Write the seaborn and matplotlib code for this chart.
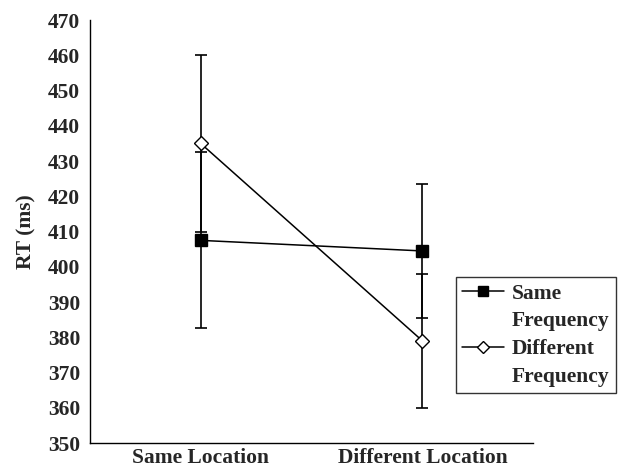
import numpy as np
import pandas as pd
import matplotlib
matplotlib.use('Agg')
import matplotlib.pyplot as plt
import seaborn as sns

# Values
locations = ['Same Location', 'Different Location']
same_freq = [407.5, 404.5]
same_freq_err = [25, 19]
diff_freq = [435, 379]
diff_freq_err = [25, 19]
y_ticks = list(range(350, 471, 10))

df = pd.DataFrame({
    'pos': [0, 1, 0, 1],
    'RT': same_freq + diff_freq,
    'err': same_freq_err + diff_freq_err,
    'cond': ['Same Frequency'] * 2 + ['Different Frequency'] * 2,
})

sns.set_style('white')
plt.rcParams['font.family'] = ['Liberation Serif', 'DejaVu Serif']
FS = 15.5

fig = plt.figure(figsize=(6.2, 4.68), dpi=100)
ax = fig.add_axes([0.145, 0.0534, 0.715, 0.9036])

# error bars first, markers drawn on top
for cond, sub in df.groupby('cond', sort=False):
    ax.errorbar(sub['pos'], sub['RT'], yerr=sub['err'], fmt='none',
                ecolor='black', elinewidth=1.2, capsize=4, capthick=1.2, zorder=2)

sns.lineplot(data=df, x='pos', y='RT', hue='cond', style='cond',
             markers={'Same Frequency': 's', 'Different Frequency': 'D'},
             dashes=False, palette=['black', 'black'], linewidth=1.1,
             ax=ax, zorder=3, legend=False)

# marker styling: filled square, hollow diamond
lines = ax.get_lines()
for ln, cond in zip(lines[-2:], ['Same Frequency', 'Different Frequency']):
    if cond.startswith('Same'):
        ln.set_marker('s'); ln.set_markersize(8.5)
        ln.set_markerfacecolor('black'); ln.set_markeredgecolor('black')
    else:
        ln.set_marker('D'); ln.set_markersize(7.5)
        ln.set_markerfacecolor('white'); ln.set_markeredgecolor('black')
    ln.set_markeredgewidth(1.0)

ax.set_xlim(-0.5, 1.5)
ax.set_ylim(350, 470)
ax.set_yticks(y_ticks)
ax.set_yticklabels([str(t) for t in y_ticks], fontsize=FS, fontweight='bold')
ax.set_xticks([-0.5, 0.5, 1.5])
ax.set_xticklabels([])
ax.set_xticks([0, 1], minor=True)
ax.set_xticklabels(locations, minor=True, fontsize=FS, fontweight='bold')
ax.tick_params(axis='x', which='major', direction='in', length=5, width=1, color='black')
ax.tick_params(axis='x', which='minor', length=0, pad=3.5)
ax.tick_params(axis='y', direction='out', length=4, width=1, color='black', pad=3)
ax.set_xlabel('')
ax.set_ylabel('RT (ms)', fontsize=FS, fontweight='bold', labelpad=8)

for side in ['top', 'right']:
    ax.spines[side].set_visible(False)
for side in ['left', 'bottom']:
    ax.spines[side].set_color('black')
    ax.spines[side].set_linewidth(1.0)

# legend sits partly outside the axes; each label wraps over two rows
# with the handle on the first row, so use blank handles for the second rows
blank = plt.Line2D([], [], linestyle='none')
handles = [plt.Line2D([], [], color='black', marker='s', markersize=7.5,
                      markerfacecolor='black', linewidth=1.1),
           blank,
           plt.Line2D([], [], color='black', marker='D', markersize=6.5,
                      markerfacecolor='white', linewidth=1.1),
           blank]
labels = ['Same', 'Frequency', 'Different', 'Frequency']
leg = fig.legend(handles, labels,
                 loc='upper left', bbox_to_anchor=(456 / 620, 1 - 277 / 468),
                 prop={'size': 15.5, 'weight': 'bold'}, frameon=True,
                 fancybox=False, handlelength=1.95, handletextpad=0.35,
                 borderpad=0.3, labelspacing=0.36, borderaxespad=0)
leg.get_frame().set_edgecolor('black')
leg.get_frame().set_linewidth(1.0)

fig.savefig('out.png', dpi=100)
